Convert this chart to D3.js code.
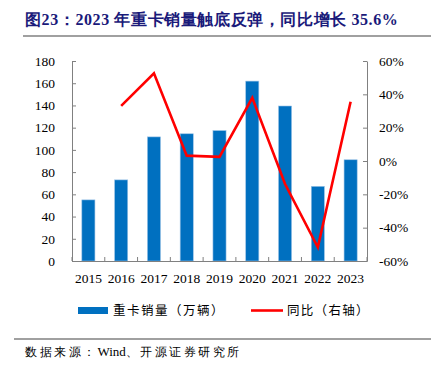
<!DOCTYPE html>
<html>
<head>
<meta charset="utf-8">
<script src="https://cdn.jsdelivr.net/npm/d3@7"></script>
<style>
  body { margin: 0; background: #fff; }
  text { font-family: "Liberation Serif", "Times New Roman", serif; }
  .cjk { font-family: "Noto Sans CJK SC", sans-serif; }
</style>
</head>
<body>
<script>

    // chart values
    var years = ["2015", "2016", "2017", "2018", "2019", "2020", "2021", "2022", "2023"];
    var sales = [55, 73, 111.7, 114.5, 117.4, 161.9, 139.5, 67.2, 91.1];
    var yoy = [null, 33.1, 52.6, 3.2, 2.5, 37.9, -13.8, -51.8, 35.6];
    var leftTicks = [0, 20, 40, 60, 80, 100, 120, 140, 160, 180];
    var rightTicks = [-60, -40, -20, 0, 20, 40, 60];

    var width = 441, height = 369;
    var plotLeft = 72, plotRight = 367, plotTop = 61, plotBottom = 261;

    var svg = d3.select("body").append("svg")
        .attr("width", width)
        .attr("height", height);

    // title
    svg.append("text")
        .attr("x", 25).attr("y", 25)
        .attr("fill", "#1a1a7a")
        .attr("font-weight", "bold")
        .attr("font-size", 16)
        .attr("letter-spacing", 0.6)
        .attr("font-family", "'Liberation Serif', 'Noto Sans CJK SC', serif")
        .text("图23：2023 年重卡销量触底反弹，同比增长 35.6%");

    svg.append("line")
        .attr("x1", 23).attr("x2", 431).attr("y1", 36).attr("y2", 36)
        .attr("stroke", "#808080").attr("stroke-width", 1.5);

    var x = d3.scaleBand().domain(years).range([plotLeft, plotRight]).paddingInner(0).paddingOuter(0);
    var yL = d3.scaleLinear().domain([0, 180]).range([plotBottom, plotTop]);
    var yR = d3.scaleLinear().domain([-60, 60]).range([plotBottom, plotTop]);

    // bars
    var bw = x.bandwidth() * 0.4;
    svg.selectAll("rect.bar")
      .data(years)
      .enter().append("rect")
      .attr("class", "bar")
      .attr("x", function(d) { return x(d) + (x.bandwidth() - bw) / 2; })
      .attr("width", bw)
      .attr("y", function(d, i) { return yL(sales[i]); })
      .attr("height", function(d, i) { return plotBottom - yL(sales[i]); })
      .attr("fill", "#0070C0")
      .attr("stroke", "#9cc3e6")
      .attr("stroke-width", 0.6);

    // line
    var line = d3.line()
        .defined(function(d) { return d[1] !== null; })
        .x(function(d) { return x(d[0]) + x.bandwidth() / 2; })
        .y(function(d) { return yR(d[1]); });

    svg.append("path")
        .datum(years.map(function(y, i) { return [y, yoy[i]]; }))
        .attr("d", line)
        .attr("fill", "none")
        .attr("stroke", "#FF0000")
        .attr("stroke-width", 2.6);

    // axes
    var axisColor = "#808080";

    var gL = svg.append("g")
        .attr("transform", "translate(" + plotLeft + ",0)")
        .call(d3.axisLeft(yL).tickValues(leftTicks).tickSizeInner(-4).tickSizeOuter(0).tickPadding(17));
    var gR = svg.append("g")
        .attr("transform", "translate(" + plotRight + ",0)")
        .call(d3.axisRight(yR).tickValues(rightTicks).tickFormat(function(d) { return d + "%"; })
              .tickSizeInner(-4).tickSizeOuter(0).tickPadding(12));
    var gB = svg.append("g")
        .attr("transform", "translate(0," + plotBottom + ")")
        .call(d3.axisBottom(x).tickSize(0).tickPadding(12));

    // category boundary ticks pointing up
    svg.selectAll("line.bt")
      .data(years.concat(["end"]))
      .enter().append("line")
      .attr("class", "bt")
      .attr("x1", function(d, i) { return plotLeft + i * x.step(); })
      .attr("x2", function(d, i) { return plotLeft + i * x.step(); })
      .attr("y1", plotBottom).attr("y2", plotBottom - 4)
      .attr("stroke", axisColor);

    [gL, gR, gB].forEach(function(g) {
        g.select(".domain").attr("stroke", axisColor);
        g.selectAll(".tick line").attr("stroke", axisColor);
        g.selectAll(".tick text")
          .attr("font-family", "'Liberation Serif', serif")
          .attr("font-size", 13.5)
          .attr("fill", "#000");
    });

    // legend
    svg.append("rect")
        .attr("x", 78).attr("y", 307).attr("width", 30).attr("height", 7)
        .attr("fill", "#0070C0");
    svg.append("text")
        .attr("class", "cjk")
        .attr("x", 113).attr("y", 315)
        .attr("font-size", 12.5)
        .attr("letter-spacing", 1.5)
        .text("重卡销量（万辆）");

    svg.append("line")
        .attr("x1", 251).attr("x2", 283).attr("y1", 310.5).attr("y2", 310.5)
        .attr("stroke", "#FF0000").attr("stroke-width", 2.6);
    svg.append("text")
        .attr("class", "cjk")
        .attr("x", 287).attr("y", 315)
        .attr("font-size", 12.5)
        .attr("letter-spacing", 1.3)
        .text("同比（右轴）");

    // source
    svg.append("line")
        .attr("x1", 14).attr("x2", 431).attr("y1", 339).attr("y2", 339)
        .attr("stroke", "#808080").attr("stroke-width", 1.5);
    var src = svg.append("text")
        .attr("x", 25).attr("y", 356)
        .attr("font-size", 12)
        .attr("font-family", "'Liberation Serif', 'Noto Sans CJK SC', serif");
    src.append("tspan").attr("letter-spacing", 2.5).text("数据来源：");
    src.append("tspan").attr("font-size", 13).text("Wind");
    src.append("tspan").attr("letter-spacing", 2.5).text("、开源证券研究所");

</script>
</body>
</html>
